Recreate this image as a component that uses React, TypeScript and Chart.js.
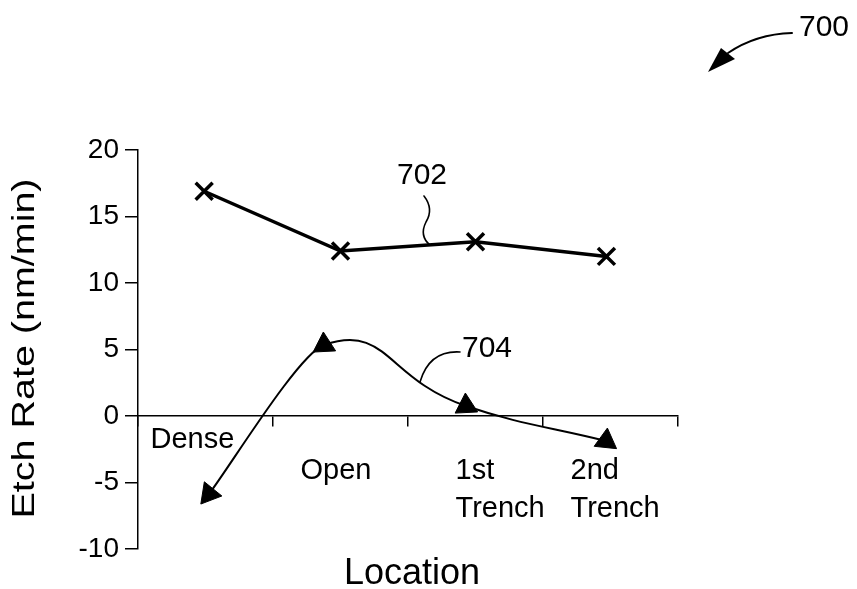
import React, { useEffect, useRef } from 'react';
import { Chart, registerables } from 'chart.js';

Chart.register(...registerables);

// ---- data ----
const categories = ['Dense', 'Open', '1st Trench', '2nd Trench'];
const curve702X = [0.49, 1.5, 2.5, 3.47];
const curve702Y = [16.9, 12.4, 13.1, 12.0];
const curve704X = [0.526, 1.378, 2.43, 3.467];
const curve704Y = [-5.86, 5.34, 0.75, -1.88];
const yTickValues = [-10, -5, 0, 5, 10, 15, 20];
const xBoundaryValues = [0, 1, 2, 3, 4];
const refLabels = ['700', '702', '704'];
const yTitle = 'Etch Rate (nm/min)';
const xTitle = 'Location';

const pts = (xs: number[], ys: number[]) => xs.map((x, i) => ({ x, y: ys[i] }));

const FONT = '"Liberation Sans", Arial, Helvetica, sans-serif';
const segmentTensions = [0.18, 0.55, 0.4];

export default function App() {
  const ref = useRef<HTMLCanvasElement>(null);

  useEffect(() => {
    const canvas = ref.current as HTMLCanvasElement;

    const annotate = {
      id: 'annotate',
      afterDraw(chart: any) {
        const { ctx, chartArea: ca } = chart;
        const xs = chart.scales.x;
        const ys = chart.scales.y;
        const zeroY = ys.getPixelForValue(0);
        ctx.save();
        ctx.fillStyle = '#000';
        ctx.strokeStyle = '#000';

        // category labels
        const catLayout = [
          { dx: -55, dy: [32] },
          { dx: -40, dy: [63] },
          { dx: -20, dy: [63, 101] },
          { dx: -40, dy: [63, 101] },
        ];
        ctx.font = '29px ' + FONT;
        ctx.textAlign = 'left';
        ctx.textBaseline = 'alphabetic';
        categories.forEach((c, i) => {
          const cx = xs.getPixelForValue(i + 0.5);
          c.split(' ').forEach((ln, j) => {
            ctx.fillText(ln, cx + catLayout[i].dx, zeroY + catLayout[i].dy[j]);
          });
        });

        // y title (stretched like the scanned original)
        ctx.save();
        ctx.translate(25, (ca.top + ca.bottom) / 2 - 1);
        ctx.rotate(-Math.PI / 2);
        ctx.font = '32px ' + FONT;
        const tw = ctx.measureText(yTitle).width;
        ctx.scale(340 / tw, 1);
        ctx.textAlign = 'center';
        ctx.textBaseline = 'middle';
        ctx.fillText(yTitle, 0, 0);
        ctx.restore();

        // x title
        ctx.font = '36px ' + FONT;
        ctx.textAlign = 'center';
        ctx.textBaseline = 'alphabetic';
        ctx.fillText(xTitle, (ca.left + ca.right) / 2 + 4, 584);

        // reference numerals
        ctx.font = '30px ' + FONT;
        ctx.fillText(refLabels[0], 824, 36);
        ctx.fillText(refLabels[1], 422, 184);
        ctx.fillText(refLabels[2], 487, 357);

        // leaders
        ctx.lineWidth = 1.6;
        ctx.lineCap = 'round';
        // 702 squiggle
        ctx.beginPath();
        ctx.moveTo(424, 196);
        ctx.quadraticCurveTo(434, 209, 426, 222);
        ctx.quadraticCurveTo(419, 236, 430, 245);
        ctx.stroke();
        // 704 hook
        ctx.beginPath();
        ctx.moveTo(460, 352);
        ctx.bezierCurveTo(443, 351, 427, 358, 420, 382);
        ctx.stroke();
        // 700 arrow
        ctx.lineWidth = 2;
        ctx.beginPath();
        ctx.moveTo(792, 33);
        ctx.quadraticCurveTo(756, 34, 728, 53);
        ctx.stroke();
        ctx.beginPath();
        ctx.moveTo(708, 72);
        ctx.lineTo(721, 48);
        ctx.lineTo(735, 59);
        ctx.closePath();
        ctx.fill();

        ctx.restore();
      },
    };

    const chart = new Chart(canvas, {
      type: 'line',
      data: {
        datasets: [
          {
            label: '702',
            data: pts(curve702X, curve702Y),
            borderColor: '#000',
            borderWidth: 3.5,
            tension: 0,
            fill: false,
            pointStyle: 'crossRot',
            pointRadius: 12,
            pointBorderWidth: 3.5,
            pointBorderColor: '#000',
            pointBackgroundColor: '#000',
          },
          ...segmentTensions.map((t, k) => ({
            label: '704 segment ' + k,
            data: pts(curve704X, curve704Y),
            borderColor: '#000',
            borderWidth: 2,
            tension: t,
            fill: false,
            pointRadius: 0,
            segment: {
              borderColor: (c: any) => (c.p0DataIndex === k ? '#000' : 'rgba(0,0,0,0)'),
            },
          })),
          {
            label: '704',
            data: pts(curve704X, curve704Y),
            showLine: false,
            pointStyle: 'triangle',
            pointRadius: 13,
            pointRotation: [-21, -3, -3, 6],
            pointBackgroundColor: '#000',
            pointBorderColor: '#000',
            pointBorderWidth: 1,
          },
        ] as any,
      },
      options: {
        animation: false,
        responsive: false,
        events: [],
        layout: { padding: { top: 150, right: 179, bottom: 40, left: 0 } },
        plugins: {
          legend: { display: false },
          tooltip: { enabled: false },
        },
        scales: {
          x: {
            type: 'linear',
            min: 0,
            max: 4,
            position: { y: 0 } as any,
            afterBuildTicks: (s: any) => {
              s.ticks = xBoundaryValues.map((v) => ({ value: v }));
            },
            afterFit: (s: any) => {
              s.height = 0;
            },
            ticks: { display: false },
            grid: {
              drawOnChartArea: false,
              drawTicks: true,
              tickLength: 10,
              color: '#000',
              lineWidth: 1.5,
            },
            border: { display: true, color: '#000', width: 1.5 },
          },
          y: {
            type: 'linear',
            position: 'left',
            min: -10,
            max: 20,
            afterBuildTicks: (s: any) => {
              s.ticks = yTickValues.map((v) => ({ value: v }));
            },
            afterFit: (s: any) => {
              s.width = 138;
            },
            ticks: {
              color: '#000',
              padding: 6,
              font: { family: FONT, size: 28 },
            },
            grid: {
              drawOnChartArea: false,
              drawTicks: true,
              tickLength: 13,
              color: '#000',
              lineWidth: 1.5,
            },
            border: { display: true, color: '#000', width: 1.5 },
          },
        },
      } as any,
      plugins: [annotate],
    });

    return () => chart.destroy();
  }, []);

  return (
    <div style={{ position: 'absolute', left: 0, top: 0, width: 857, height: 589, background: '#fff' }}>
      <canvas ref={ref} width={857} height={589} style={{ display: 'block' }} />
    </div>
  );
}
